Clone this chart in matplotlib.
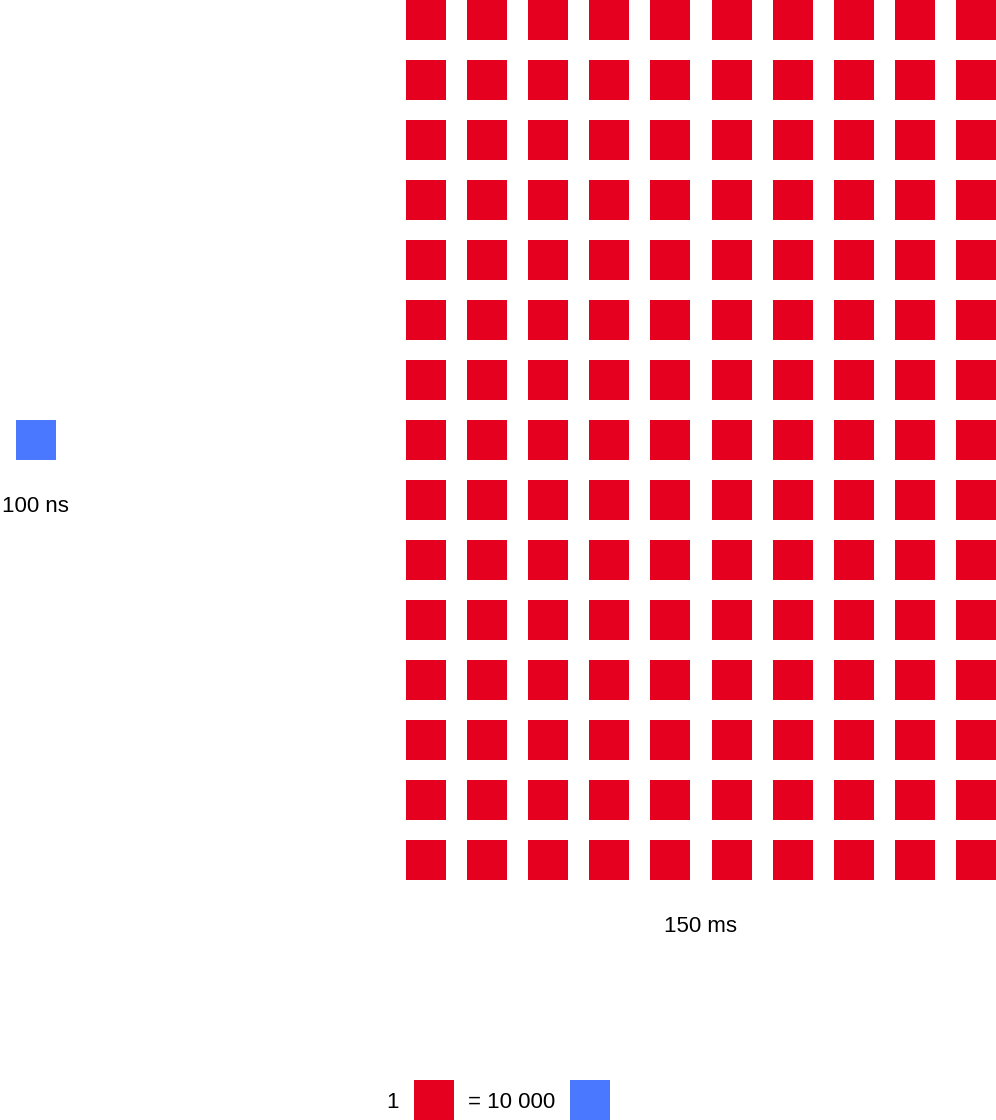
import matplotlib
matplotlib.use("Agg")
import matplotlib.pyplot as plt
import numpy as np

# data
red_rows = 15
red_cols = 10
blue_count = 1
blue_label = "100 ns"
red_label = "150 ms"
legend_left = "1"
legend_right = "= 10 000"

red = "#e6001f"
blue = "#4a78fe"

plt.rcParams['font.family'] = ['Liberation Sans', 'DejaVu Sans']

fig = plt.figure(figsize=(9.96, 11.2), dpi=100)
ax = fig.add_axes([0, 0, 1, 1])
ax.set_xlim(0, 996)
ax.set_ylim(1120, 0)
ax.axis('off')

# red grid of squares
cols, rows = np.meshgrid(np.arange(red_cols), np.arange(red_rows))
xs = 406 + cols.ravel() * 61.1
ys = rows.ravel() * 60
ax.bar(xs, 40, width=40, bottom=ys, align='edge', color=red, linewidth=0)

# blue square(s)
bx = 16 + np.arange(blue_count) * 61
ax.bar(bx, 40, width=40, bottom=420, align='edge', color=blue, linewidth=0)

ax.text(35, 506, blue_label, ha='center', va='center', fontsize=16)
ax.text(701, 926, red_label, ha='center', va='center', fontsize=16)

# legend row
ax.text(392, 1102, legend_left, ha='center', va='center', fontsize=16)
ax.bar(414, 40, width=40, bottom=1080, align='edge', color=red, linewidth=0)
ax.text(512, 1102, legend_right, ha='center', va='center', fontsize=16)
ax.bar(570, 40, width=40, bottom=1080, align='edge', color=blue, linewidth=0)

fig.savefig("out.png", dpi=100)
